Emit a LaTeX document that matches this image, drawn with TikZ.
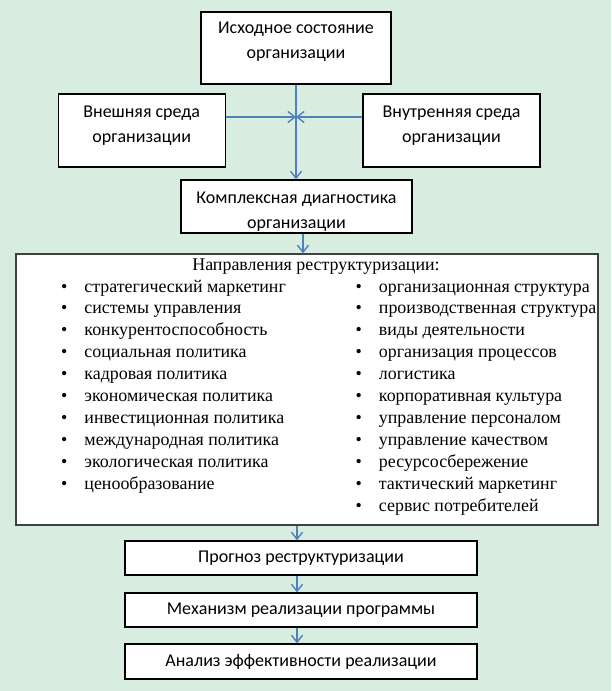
\documentclass[tikz,border=0pt]{standalone}
\usepackage{fontspec}
\setmainfont{Liberation Serif}
\newfontfamily\calibrifont{Carlito}
\usetikzlibrary{arrows.meta}

\definecolor{mint}{RGB}{216,236,224}
\definecolor{arrowblue}{RGB}{79,129,189}
\newcommand{\listbullet}{\textbullet\hspace{17pt}}

\tikzset{
  frame/.style={draw=black,fill=white,line width=1.3pt,inner sep=0pt},
  boxtext/.style={font=\calibrifont\fontsize{18}{25}\selectfont,align=center,inner sep=0pt},
  listtext/.style={font=\fontsize{17.9}{21.9}\selectfont,align=left,inner sep=0pt},
  flow/.style={draw=arrowblue,line width=1.4pt,-{Straight Barb[length=7pt,width=11pt]}}
}

\begin{document}
\begin{tikzpicture}[x=1pt,y=-1pt]
\fill[mint] (0,0) rectangle (611,691);
\useasboundingbox (0,0) rectangle (611,691);

% upper boxes
\node[frame,minimum width=190,minimum height=72] (start) at (296,48) {};
\node[boxtext] (starttext) at ([yshift=6pt]start.center) {Исходное состояние\\организации};
\node[frame,minimum width=167,minimum height=73] (outer) at (141.7,130.5) {};
\node[boxtext] (outertext) at ([yshift=4.5pt]outer.center) {Внешняя среда\\организации};
\node[frame,minimum width=177,minimum height=73] (inner) at (451.5,130.5) {};
\node[boxtext] (innertext) at ([yshift=4.5pt]inner.center) {Внутренняя среда\\организации};
\node[frame,minimum width=231,minimum height=53] (diag) at (296.5,206.5) {};
\node[boxtext] (diagtext) at ([yshift=-5pt]diag.center) {Комплексная диагностика\\организации};

% directions (last line of each column is the base)
\node[frame,draw=black!75,minimum width=582,minimum height=271] (dirs) at (307,389.5) {};
\node[listtext,anchor=base] (dirshead) at (316,270) {Направления реструктуризации:};
\node[listtext,anchor=base west] (leftcol) at (61,489.1) {\listbullet стратегический маркетинг\\
\listbullet системы управления\\
\listbullet конкурентоспособность\\
\listbullet социальная политика\\
\listbullet кадровая политика\\
\listbullet экономическая политика\\
\listbullet инвестиционная политика\\
\listbullet международная политика\\
\listbullet экологическая политика\\
\listbullet ценообразование};
\node[listtext,anchor=base west] (rightcol) at (355.5,511) {\listbullet организационная структура\\
\listbullet производственная структура\\
\listbullet виды деятельности\\
\listbullet организация процессов\\
\listbullet логистика\\
\listbullet корпоративная культура\\
\listbullet управление персоналом\\
\listbullet управление качеством\\
\listbullet ресурсосбережение\\
\listbullet тактический маркетинг\\
\listbullet сервис потребителей};

% lower boxes
\node[frame,boxtext,minimum width=352,minimum height=34] (prog) at (301,558) {Прогноз реструктуризации};
\node[frame,boxtext,minimum width=352,minimum height=34] (mech) at (301,610) {Механизм реализации программы};
\node[frame,boxtext,minimum width=352,minimum height=35] (anal) at (301,661.5) {Анализ эффективности реализации};

% arrows
\draw[flow] (start.south) -- (start.south |- diag.north);
\draw[flow] ([yshift=13.5pt]outer.east) -- ([yshift=13.5pt]outer.east -| start.south);
\draw[flow] ([yshift=13.5pt]inner.west) -- ([yshift=13.5pt]inner.west -| start.south);
\draw[flow] ([xshift=6.5pt]diag.south) -- ([xshift=6.5pt]diag.south |- dirs.north);
\draw[flow] ([xshift=-4pt]prog.north |- dirs.south) -- ([xshift=-4pt]prog.north);
\draw[flow] ([xshift=-4pt]prog.south) -- ([xshift=-4pt]mech.north);
\draw[flow] ([xshift=-4pt]mech.south) -- ([xshift=-4pt]anal.north);
\end{tikzpicture}
\end{document}
